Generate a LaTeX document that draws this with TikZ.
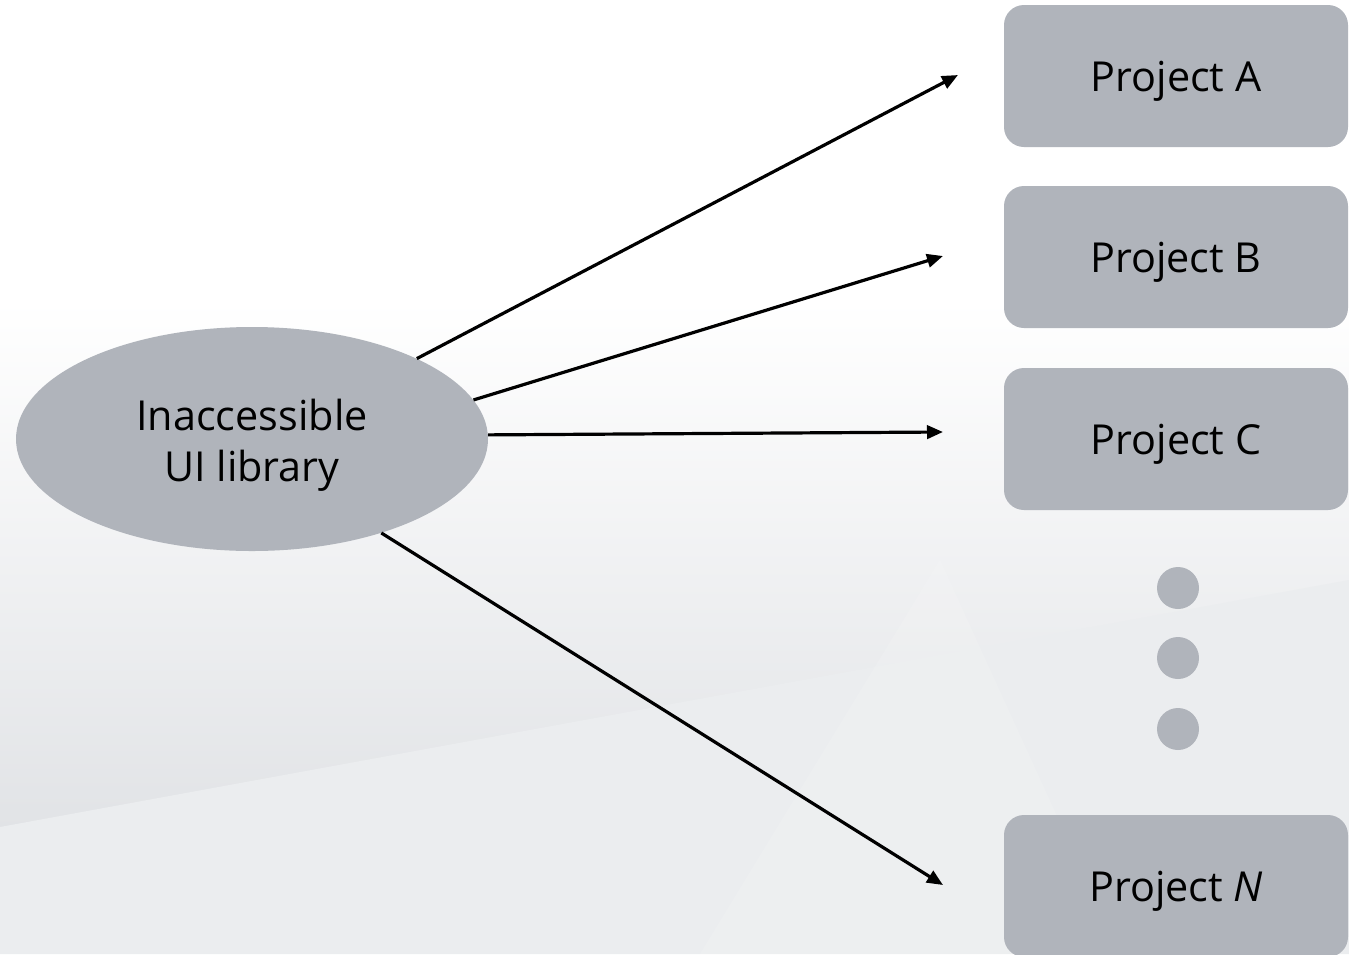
\documentclass[tikz,border=0pt]{standalone}
\usepackage{fontspec}
\setmainfont{Open Sans}
\usetikzlibrary{arrows.meta,shapes.geometric}
\definecolor{boxgray}{RGB}{176,180,187}
\definecolor{bgA}{RGB}{225,227,230}
\definecolor{bgB}{RGB}{235,237,239}
\tikzset{
  proj/.style={rectangle, rounded corners=15pt, fill=boxgray, minimum width=258pt, minimum height=106.5pt, inner sep=0pt, text depth=0pt, font=\fontsize{31}{38}\selectfont},
  lib/.style={ellipse, fill=boxgray, minimum width=354pt, minimum height=168pt, inner sep=0pt},
  libtext/.style={align=center, inner sep=0pt, font=\fontsize{31}{38}\selectfont},
  dotnode/.style={circle, fill=boxgray, minimum size=31.5pt, inner sep=0pt},
  link/.style={line width=2.4pt, -{Triangle[length=12pt,width=10pt]}}
}
\begin{document}
\begin{tikzpicture}[x=0.75pt,y=-0.75pt]
\useasboundingbox (0,0) rectangle (1349,954);
% background
\fill[white] (0,0) rectangle (1349,300);
\shade[top color=white, bottom color=bgA] (0,300) rectangle (1349,830);
\fill[bgA] (0,830) rectangle (1349,954);
\fill[bgB] (0,827) -- (1349,580) -- (1349,954) -- (0,954) -- cycle;
\fill[white, opacity=0.12] (940,560) -- (1120,954) -- (700,954) -- cycle;
% nodes
\node[lib] (L) at (252,439) {};
\node[libtext] (Lt) at (252,445) {Inaccessible\\UI library};
\node[proj] (A) at (1176,76) {Project A};
\node[proj] (B) at (1176,257) {Project B};
\node[proj] (C) at (1176,439) {Project C};
\node[proj] (N) at (1176,886) {Project \textit{N}};
\node[dotnode] (d1) at (1178,588) {};
\node[dotnode] (d2) at (1178,658) {};
\node[dotnode] (d3) at (1178,729) {};
% arrow targets
\coordinate (tA) at (958,75);
\coordinate (tB) at (943,256);
\coordinate (tC) at (943,432);
\coordinate (tN) at (943,885);
\draw[link] (L.26) -- (tA);
\draw[link] (L.10) -- (tB);
\draw[link] (L.1) -- (tC);
\draw[link] (L.-36) -- (tN);
\end{tikzpicture}
\end{document}
